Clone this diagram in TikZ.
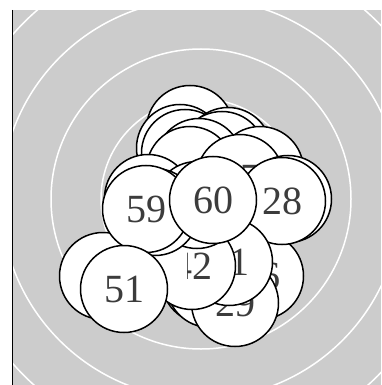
\documentclass[tikz,border=0pt]{standalone}
\usepackage{fontspec}
\setmainfont{Liberation Serif}
\definecolor{bggray}{HTML}{CCCCCC}
\definecolor{labelgray}{HTML}{3C3C3C}
\begin{document}
\begin{tikzpicture}[x=1pt,y=-1pt,
  ball/.style={circle,draw=black,fill=white,line width=1.5pt,minimum size=87pt,
    inner sep=0pt,text=labelgray,font=\fontsize{40}{40}\selectfont},
  lbl/.style={inner sep=0pt,text=labelgray,font=\fontsize{40}{40}\selectfont},
  ring/.style={white,line width=1.5pt}]
\useasboundingbox (0,0) rectangle (381,385);
\fill[bggray] (12,10) rectangle (381,385);
\begin{scope}
  \clip (12,10) rectangle (381,385);
  \foreach \r in {50,100,150,200,250} \draw[ring] (201,199) circle[radius=\r];
\end{scope}
\draw[black,line width=1pt] (12,10) -- (12,385);
% back cluster
\node[ball] (b1) at (190,129) {};
\node[ball] (b2) at (180,148) {};
\node[ball] (b3) at (185,153) {};
\node[ball] (b4) at (228,151) {};
\node[ball] (b5) at (222,155) {};
\node[ball] (b6) at (199,162) {};
\node[ball] (b7) at (190,170) {};
\node[ball] (b8) at (260,170) {};
\node[ball] (h47) at (240,178) {47};
\node[ball] (q) at (288,199) {};
\node[ball] (n36) at (260,276) {36};
\node[ball] (n28) at (282,201) {28};
\node[ball] (n13) at (150,258) {13};
\node[ball] (l1) at (205,280) {};
\node[ball] (l2) at (210,284) {};
\node[ball] (n29) at (235,303) {29};
\node[ball] (n21) at (229,262) {21};
\node[ball] (n42) at (192,266) {};
\begin{scope}
  \clip (187,240) rectangle (236,292);
  \node[lbl] (t42) at (n42.center) {42};
\end{scope}
\node[ball] (lc) at (103,276) {};
\node[ball] (bk59) at (148,198) {};
\node[ball] (u60) at (197,205) {};
\node[ball] (u59) at (155,212) {};
\node[ball] (n59) at (146,209) {59};
\node[ball] (n51) at (124,289) {51};
\node[ball] (n60) at (213,200) {60};
\end{tikzpicture}
\end{document}
